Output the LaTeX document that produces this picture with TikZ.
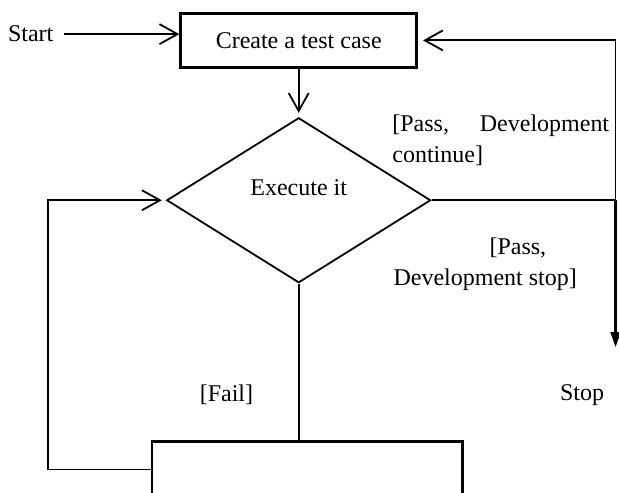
\documentclass[tikz,border=0pt]{standalone}
\usepackage{fontspec}
\setmainfont{Liberation Serif}
\usetikzlibrary{shapes,arrows.meta}

\begin{document}
\begin{tikzpicture}[font=\fontsize{12}{15.5}\selectfont,
	stepbox/.style={draw,line width=1.3pt,minimum width=4.15cm,minimum height=0.95cm,inner sep=0pt},
	decision/.style={draw,diamond,line width=0.9pt,minimum width=4.64cm,minimum height=2.9cm,inner sep=0pt},
	openarr/.style={line width=0.9pt,-{Straight Barb[length=9pt,width=10pt]}},
	fillarr/.style={line width=1.1pt,-{Triangle[length=7.5pt,width=5pt]}},
	flow/.style={line width=0.9pt},
	guard/.style={inner sep=0pt,align=left}]
					\clip (0,0) rectangle (10.88,8.65);
					
					\node[stepbox] (create) at (5.25,7.94) {Create a test case};
					\node[inner sep=0pt,inner xsep=5pt] (start) at (0.54,8.05) {Start};
					\node[decision,text height=0pt,text depth=5pt] (exec) at (5.25,5.13) {Execute it};
					\node[stepbox,minimum width=5.45cm,minimum height=0.98cm,anchor=north] (fix) at (5.40,0.91) {};
					
					\coordinate (rtop) at (10.82,7.94);
					\coordinate (stoptip) at (10.82,2.55);
					\coordinate (lcorner) at (0.84,5.13);
					
					\draw[openarr] (start.east) -- (start.east -| create.west);
					\draw[openarr,shorten >=2pt] (create.south) -- (exec.north);
					\draw[openarr,shorten >=2.5pt] (exec.east) -| (rtop) -- (create.east);
					\draw[fillarr] (exec.east -| rtop) -- (stoptip);
					\draw[flow] (exec.south) -- (exec.south |- fix.north);
					\draw[openarr,shorten >=2pt] (fix.west) -| (lcorner) -- (exec.west);
					
					\node[guard,text width=3.81cm,anchor=north west] (passgo) at (6.89,6.64) {[Pass,\hfill Development\\continue]};
					\node[guard,anchor=north west] (passend) at (6.91,4.47) {\hspace*{48pt}[Pass,\\Development stop]};
					\node (fail) at (3.98,1.71) {[Fail]};
					\node (stop) at (10.23,1.71) {Stop};
				\end{tikzpicture}
\end{document}
